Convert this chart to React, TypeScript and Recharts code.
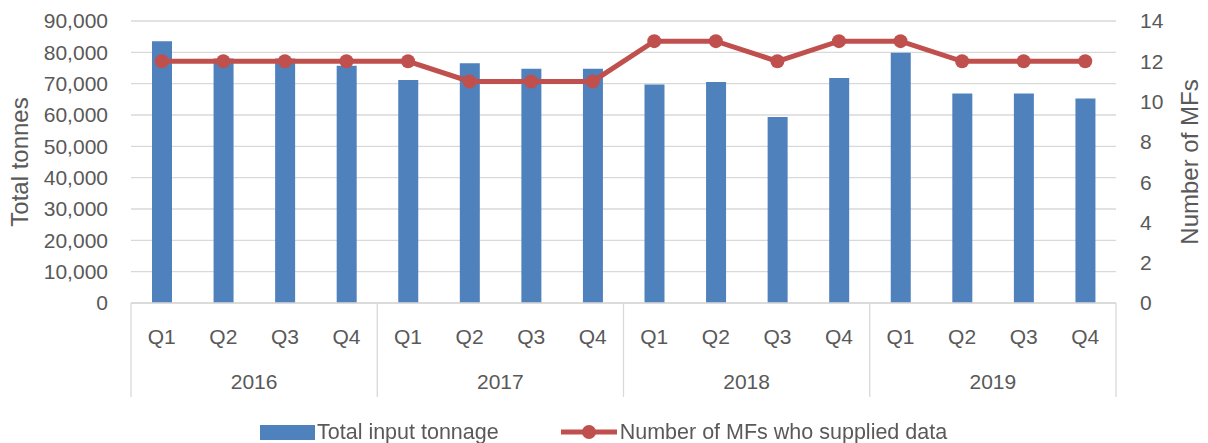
import { ComposedChart, Bar, Line, XAxis, YAxis, CartesianGrid, Legend } from 'recharts';

const quarters = ['Q1', 'Q2', 'Q3', 'Q4', 'Q1', 'Q2', 'Q3', 'Q4', 'Q1', 'Q2', 'Q3', 'Q4', 'Q1', 'Q2', 'Q3', 'Q4'];
const years = ['2016', '2016', '2016', '2016', '2017', '2017', '2017', '2017', '2018', '2018', '2018', '2018', '2019', '2019', '2019', '2019'];
const tonnage = [83500, 78000, 78000, 75700, 71200, 76500, 74800, 74800, 69700, 70500, 59400, 71800, 79900, 66900, 66900, 65300];
const mfCount = [12, 12, 12, 12, 12, 11, 11, 11, 13, 13, 12, 13, 13, 12, 12, 12];

const leftTicks = [0, 10000, 20000, 30000, 40000, 50000, 60000, 70000, 80000, 90000];
const rightTicks = [0, 2, 4, 6, 8, 10, 12, 14];

const data = quarters.map((q, i) => ({ q, year: years[i], tonnage: tonnage[i], mfs: mfCount[i] }));

const FONT = '"Liberation Sans", Arial, sans-serif';
const TEXT = '#595959';
const GRID = '#d9d9d9';
const BLUE = '#4f81bd';
const RED = '#c0504d';

const QuarterTick = (p: any) => (
  <text x={p.x} y={p.y + 40.5} textAnchor="middle" fill={TEXT} fontSize={21} fontFamily={FONT}>
    {p.payload.value}
  </text>
);

// year row: label in the middle of each group of 4, separators on group edges
const YearTick = (p: any) => {
  const { x, y, index, payload } = p;
  const off = payload.offset ?? 0;
  const sep = (lx: number) => (
    <line x1={lx} x2={lx} y1={y - 47} y2={y + 47} stroke={GRID} strokeWidth={1.3} />
  );
  return (
    <g>
      {index % 4 === 0 && sep(x - off)}
      {index % 4 === 1 && (
        <text x={x + off} y={y + 38.5} textAnchor="middle" fill={TEXT} fontSize={21} fontFamily={FONT}>
          {payload.value}
        </text>
      )}
      {index === data.length - 1 && sep(x + off)}
    </g>
  );
};

const LegendContent = () => (
  <div
    style={{
      height: 46,
      boxSizing: 'border-box',
      paddingTop: 24,
      paddingLeft: 260,
      display: 'flex',
      alignItems: 'center',
      fontFamily: FONT,
      fontSize: 21.5,
      color: TEXT,
      width: 1208,
      lineHeight: '22px',
    }}
  >
    <span style={{ display: 'inline-block', width: 55, height: 15, background: BLUE, marginRight: 2 }} />
    <span>Total input tonnage</span>
    <svg width={56} height={16} style={{ marginLeft: 62, marginRight: 3 }}>
      <line x1={0} x2={56} y1={8} y2={8} stroke={RED} strokeWidth={5} />
      <circle cx={28} cy={8} r={7} fill={RED} />
    </svg>
    <span>Number of MFs who supplied data</span>
  </div>
);

export default function App() {
  return (
    <div style={{ position: 'fixed', left: 0, top: 0, background: '#fff' }}>
      <ComposedChart
        width={1208}
        height={443}
        data={data}
        margin={{ top: 21, right: 0, left: 0, bottom: 0 }}
        style={{ fontFamily: FONT }}
      >
        <CartesianGrid xAxisId="q" yAxisId="left" vertical={false} stroke={GRID} strokeWidth={1.3} />
        <XAxis
          xAxisId="q"
          dataKey="q"
          height={47}
          interval={0}
          tickLine={false}
          tickSize={0}
          tickMargin={0}
          axisLine={{ stroke: GRID, strokeWidth: 1.3 }}
          tick={QuarterTick}
        />
        <XAxis
          xAxisId="year"
          dataKey="year"
          height={47}
          interval={0}
          axisLine={false}
          tickLine={false}
          tickSize={0}
          tickMargin={0}
          tick={YearTick}
        />
        <YAxis
          yAxisId="left"
          width={131}
          domain={[0, 90000]}
          ticks={leftTicks}
          axisLine={false}
          tickLine={false}
          tickSize={0}
          tickMargin={23}
          tick={{ fontSize: 21, fill: TEXT, fontFamily: FONT }}
          tickFormatter={(v: number) => v.toLocaleString('en-US')}
          label={{ value: 'Total tonnes', angle: -90, position: 'center', dx: -46.5, fontSize: 24, fill: TEXT, fontFamily: FONT }}
        />
        <YAxis
          yAxisId="right"
          orientation="right"
          width={92}
          domain={[0, 14]}
          ticks={rightTicks}
          axisLine={false}
          tickLine={false}
          tickSize={0}
          tickMargin={24}
          tick={{ fontSize: 21, fill: TEXT, fontFamily: FONT }}
          label={{ value: 'Number of MFs', angle: -90, position: 'center', dx: 27, fontSize: 24, fill: TEXT, fontFamily: FONT }}
        />
        <Legend verticalAlign="bottom" height={46} content={LegendContent} />
        <Bar
          xAxisId="q"
          yAxisId="left"
          dataKey="tonnage"
          name="Total input tonnage"
          fill={BLUE}
          barSize={20}
          isAnimationActive={false}
        />
        <Line
          xAxisId="q"
          yAxisId="right"
          dataKey="mfs"
          name="Number of MFs who supplied data"
          type="linear"
          stroke={RED}
          strokeWidth={5}
          dot={{ r: 7, fill: RED, stroke: RED, strokeWidth: 0 }}
          activeDot={false}
          isAnimationActive={false}
        />
      </ComposedChart>
    </div>
  );
}
